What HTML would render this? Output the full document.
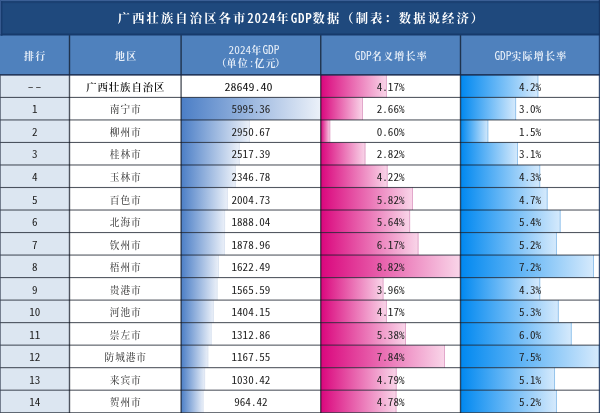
<!DOCTYPE html>
<html lang="zh-CN">
<head>
<meta charset="utf-8">
<title>广西壮族自治区各市2024年GDP数据</title>
<style>
html,body{margin:0;padding:0;background:#fff;}
body{width:600px;height:413px;overflow:hidden;font-family:"Liberation Sans","Noto Sans CJK SC",sans-serif;}
#wrap{position:relative;width:600px;height:413px;overflow:hidden;background:#fff;}
#bg{position:absolute;left:0;top:0;display:block}
.title{will-change:transform;position:absolute;left:0;top:0;width:600px;height:35px;color:#fff;white-space:nowrap;box-sizing:border-box;padding-left:3px;
 font-family:"Noto Serif CJK SC",serif;font-weight:700;font-size:12.3px;line-height:35.6px;text-align:center;letter-spacing:2.1px;}
.title b{font-family:"Noto Sans CJK SC",sans-serif;font-feature-settings:"hwid";font-weight:500;font-size:13px;letter-spacing:0.75px}
.hc{will-change:transform;position:absolute;top:35.5px;height:40px;display:flex;align-items:center;justify-content:center;color:#e6eef8;white-space:nowrap;
 font-family:"Noto Serif CJK SC",serif;font-weight:700;font-size:10px;line-height:13.5px;text-align:center;letter-spacing:1.25px}
.hc span{display:inline-block;padding-left:1px}
.hc b{font-family:"Noto Sans CJK SC",sans-serif;font-feature-settings:"hwid";font-weight:400;font-size:11.3px;letter-spacing:0}
.hc em{font-style:normal;letter-spacing:1.1px}
.hc s{text-decoration:none;padding-left:5.4px}
.hc u{text-decoration:none}
.hc .pl{margin-right:-1px}
.hc .pr{margin-left:-1.5px}
.row{position:absolute;left:0;width:600px;height:22.5px;will-change:transform}
.cell{position:absolute;top:0;height:22.5px;display:flex;align-items:center;justify-content:center;color:#111;white-space:nowrap}
.num{display:inline-block;font-family:"Noto Sans CJK SC",sans-serif;font-feature-settings:"hwid";font-size:11.1px;line-height:14px;color:#222;transform:translateY(0.7px) scaleY(0.95)}
.kai{display:inline-block;font-family:"Noto Serif CJK SC",serif;font-size:9.7px;line-height:14px;font-weight:500;letter-spacing:0.9px;padding-left:0.9px;color:#444;transform:translateY(0.8px)}
.kai.b{font-weight:600;color:#111;font-size:10.4px;letter-spacing:0.9px;padding-left:0.9px}
.num.g0{font-size:12px;color:#111;margin-left:-5px;transform:translateY(0.7px) scaleY(0.9)}
.num.dd{transform:translateY(-0.3px) scaleX(1.4);color:#333}
</style>
</head>
<body>
<div id="wrap">
<svg id="bg" width="600" height="413" viewBox="0 0 600 413">
<defs>
<linearGradient id="gg" x1="0" y1="0" x2="1" y2="0"><stop offset="0" stop-color="#4b7ec6"/><stop offset="1" stop-color="#ecf1f9"/></linearGradient>
<linearGradient id="gp" x1="0" y1="0" x2="1" y2="0"><stop offset="0" stop-color="#da067d"/><stop offset="1" stop-color="#f9d6e9"/></linearGradient>
<linearGradient id="gu" x1="0" y1="0" x2="1" y2="0"><stop offset="0" stop-color="#0088f0"/><stop offset="1" stop-color="#d6eafc"/></linearGradient>
</defs>
<rect x="0" y="0" width="600" height="413" fill="#ffffff"/>
<rect x="0" y="0" width="600" height="34.6" fill="#1f497d"/>
<rect x="0" y="0" width="600" height="1" fill="#3b5f95"/>
<rect x="0" y="1.2" width="600" height="2" fill="#1b4072"/>
<rect x="0" y="34.6" width="600" height="40.300000000000004" fill="#4f81bd"/>
<rect x="0" y="74.9" width="69.5" height="338.1" fill="#dce6f1"/>
<rect x="320.75" y="74.9" width="66.07" height="22.52" fill="url(#gp)"/>
<rect x="385.92" y="74.9" width="0.9" height="22.52" fill="#dfa3c8"/>
<rect x="460.5" y="74.9" width="77.84" height="22.52" fill="url(#gu)"/>
<rect x="537.44" y="74.9" width="0.9" height="22.52" fill="#8fc0ea"/>
<rect x="181.1" y="97.42" width="139.65" height="22.52" fill="url(#gg)"/>
<rect x="320.75" y="97.42" width="42.15" height="22.52" fill="url(#gp)"/>
<rect x="362.00" y="97.42" width="0.9" height="22.52" fill="#dfa3c8"/>
<rect x="460.5" y="97.42" width="55.60" height="22.52" fill="url(#gu)"/>
<rect x="515.20" y="97.42" width="0.9" height="22.52" fill="#8fc0ea"/>
<rect x="181.1" y="119.94" width="68.73" height="22.52" fill="url(#gg)"/>
<rect x="248.93" y="119.94" width="0.9" height="22.52" fill="#dbe3f0"/>
<rect x="320.75" y="119.94" width="9.51" height="22.52" fill="url(#gp)"/>
<rect x="329.36" y="119.94" width="0.9" height="22.52" fill="#dfa3c8"/>
<rect x="460.5" y="119.94" width="27.80" height="22.52" fill="url(#gu)"/>
<rect x="487.40" y="119.94" width="0.9" height="22.52" fill="#8fc0ea"/>
<rect x="181.1" y="142.46" width="58.64" height="22.52" fill="url(#gg)"/>
<rect x="238.84" y="142.46" width="0.9" height="22.52" fill="#dbe3f0"/>
<rect x="320.75" y="142.46" width="44.68" height="22.52" fill="url(#gp)"/>
<rect x="364.53" y="142.46" width="0.9" height="22.52" fill="#dfa3c8"/>
<rect x="460.5" y="142.46" width="57.45" height="22.52" fill="url(#gu)"/>
<rect x="517.05" y="142.46" width="0.9" height="22.52" fill="#8fc0ea"/>
<rect x="181.1" y="164.98000000000002" width="54.66" height="22.52" fill="url(#gg)"/>
<rect x="234.86" y="164.98000000000002" width="0.9" height="22.52" fill="#dbe3f0"/>
<rect x="320.75" y="164.98000000000002" width="66.86" height="22.52" fill="url(#gp)"/>
<rect x="386.71" y="164.98000000000002" width="0.9" height="22.52" fill="#dfa3c8"/>
<rect x="460.5" y="164.98000000000002" width="79.69" height="22.52" fill="url(#gu)"/>
<rect x="539.29" y="164.98000000000002" width="0.9" height="22.52" fill="#8fc0ea"/>
<rect x="181.1" y="187.5" width="46.70" height="22.52" fill="url(#gg)"/>
<rect x="226.90" y="187.5" width="0.9" height="22.52" fill="#dbe3f0"/>
<rect x="320.75" y="187.5" width="92.22" height="22.52" fill="url(#gp)"/>
<rect x="412.07" y="187.5" width="0.9" height="22.52" fill="#dfa3c8"/>
<rect x="460.5" y="187.5" width="87.11" height="22.52" fill="url(#gu)"/>
<rect x="546.71" y="187.5" width="0.9" height="22.52" fill="#8fc0ea"/>
<rect x="181.1" y="210.02" width="43.98" height="22.52" fill="url(#gg)"/>
<rect x="224.18" y="210.02" width="0.9" height="22.52" fill="#dbe3f0"/>
<rect x="320.75" y="210.02" width="89.36" height="22.52" fill="url(#gp)"/>
<rect x="409.21" y="210.02" width="0.9" height="22.52" fill="#dfa3c8"/>
<rect x="460.5" y="210.02" width="100.08" height="22.52" fill="url(#gu)"/>
<rect x="559.68" y="210.02" width="0.9" height="22.52" fill="#8fc0ea"/>
<rect x="181.1" y="232.54" width="43.77" height="22.52" fill="url(#gg)"/>
<rect x="223.97" y="232.54" width="0.9" height="22.52" fill="#dbe3f0"/>
<rect x="320.75" y="232.54" width="97.76" height="22.52" fill="url(#gp)"/>
<rect x="417.61" y="232.54" width="0.9" height="22.52" fill="#dfa3c8"/>
<rect x="460.5" y="232.54" width="96.37" height="22.52" fill="url(#gu)"/>
<rect x="555.97" y="232.54" width="0.9" height="22.52" fill="#8fc0ea"/>
<rect x="181.1" y="255.06" width="37.79" height="22.52" fill="url(#gg)"/>
<rect x="217.99" y="255.06" width="0.9" height="22.52" fill="#dbe3f0"/>
<rect x="320.75" y="255.06" width="139.75" height="22.52" fill="url(#gp)"/>
<rect x="459.60" y="255.06" width="0.9" height="22.52" fill="#dfa3c8"/>
<rect x="460.5" y="255.06" width="133.44" height="22.52" fill="url(#gu)"/>
<rect x="593.04" y="255.06" width="0.9" height="22.52" fill="#8fc0ea"/>
<rect x="181.1" y="277.58000000000004" width="36.47" height="22.52" fill="url(#gg)"/>
<rect x="216.67" y="277.58000000000004" width="0.9" height="22.52" fill="#dbe3f0"/>
<rect x="320.75" y="277.58000000000004" width="62.74" height="22.52" fill="url(#gp)"/>
<rect x="382.59" y="277.58000000000004" width="0.9" height="22.52" fill="#dfa3c8"/>
<rect x="460.5" y="277.58000000000004" width="79.69" height="22.52" fill="url(#gu)"/>
<rect x="539.29" y="277.58000000000004" width="0.9" height="22.52" fill="#8fc0ea"/>
<rect x="181.1" y="300.1" width="32.71" height="22.52" fill="url(#gg)"/>
<rect x="212.91" y="300.1" width="0.9" height="22.52" fill="#dbe3f0"/>
<rect x="320.75" y="300.1" width="66.07" height="22.52" fill="url(#gp)"/>
<rect x="385.92" y="300.1" width="0.9" height="22.52" fill="#dfa3c8"/>
<rect x="460.5" y="300.1" width="98.23" height="22.52" fill="url(#gu)"/>
<rect x="557.83" y="300.1" width="0.9" height="22.52" fill="#8fc0ea"/>
<rect x="181.1" y="322.62" width="30.58" height="22.52" fill="url(#gg)"/>
<rect x="210.78" y="322.62" width="0.9" height="22.52" fill="#dbe3f0"/>
<rect x="320.75" y="322.62" width="85.24" height="22.52" fill="url(#gp)"/>
<rect x="405.09" y="322.62" width="0.9" height="22.52" fill="#dfa3c8"/>
<rect x="460.5" y="322.62" width="111.20" height="22.52" fill="url(#gu)"/>
<rect x="570.80" y="322.62" width="0.9" height="22.52" fill="#8fc0ea"/>
<rect x="181.1" y="345.14" width="27.20" height="22.52" fill="url(#gg)"/>
<rect x="207.40" y="345.14" width="0.9" height="22.52" fill="#dbe3f0"/>
<rect x="320.75" y="345.14" width="124.22" height="22.52" fill="url(#gp)"/>
<rect x="444.07" y="345.14" width="0.9" height="22.52" fill="#dfa3c8"/>
<rect x="460.5" y="345.14" width="139.00" height="22.52" fill="url(#gu)"/>
<rect x="598.60" y="345.14" width="0.9" height="22.52" fill="#8fc0ea"/>
<rect x="181.1" y="367.65999999999997" width="24.00" height="22.52" fill="url(#gg)"/>
<rect x="204.20" y="367.65999999999997" width="0.9" height="22.52" fill="#dbe3f0"/>
<rect x="320.75" y="367.65999999999997" width="75.90" height="22.52" fill="url(#gp)"/>
<rect x="395.75" y="367.65999999999997" width="0.9" height="22.52" fill="#dfa3c8"/>
<rect x="460.5" y="367.65999999999997" width="94.52" height="22.52" fill="url(#gu)"/>
<rect x="554.12" y="367.65999999999997" width="0.9" height="22.52" fill="#8fc0ea"/>
<rect x="181.1" y="390.17999999999995" width="22.46" height="22.52" fill="url(#gg)"/>
<rect x="202.66" y="390.17999999999995" width="0.9" height="22.52" fill="#dbe3f0"/>
<rect x="320.75" y="390.17999999999995" width="75.74" height="22.52" fill="url(#gp)"/>
<rect x="395.59" y="390.17999999999995" width="0.9" height="22.52" fill="#dfa3c8"/>
<rect x="460.5" y="390.17999999999995" width="96.37" height="22.52" fill="url(#gu)"/>
<rect x="555.97" y="390.17999999999995" width="0.9" height="22.52" fill="#8fc0ea"/>
<g fill="#0c1220" fill-opacity="0.7">
<rect x="68.80" y="34.6" width="1.4" height="378.4"/>
<rect x="180.40" y="34.6" width="1.4" height="378.4"/>
<rect x="320.05" y="34.6" width="1.4" height="378.4"/>
<rect x="459.80" y="34.6" width="1.4" height="378.4"/>
<rect x="0" y="74.00" width="600" height="1.7" fill="#16284a" fill-opacity="0.85"/>
<rect x="0" y="96.87" width="600" height="1.1"/>
<rect x="0" y="119.39" width="600" height="1.1"/>
<rect x="0" y="141.91" width="600" height="1.1"/>
<rect x="0" y="164.43" width="600" height="1.1"/>
<rect x="0" y="186.95" width="600" height="1.1"/>
<rect x="0" y="209.47" width="600" height="1.1"/>
<rect x="0" y="231.99" width="600" height="1.1"/>
<rect x="0" y="254.51" width="600" height="1.1"/>
<rect x="0" y="277.03" width="600" height="1.1"/>
<rect x="0" y="299.55" width="600" height="1.1"/>
<rect x="0" y="322.07" width="600" height="1.1"/>
<rect x="0" y="344.59" width="600" height="1.1"/>
<rect x="0" y="367.11" width="600" height="1.1"/>
<rect x="0" y="389.63" width="600" height="1.1"/>
<rect x="0" y="412.15" width="600" height="1.1"/>
</g>
<rect x="0" y="33.5" width="600" height="2" fill="#173a6b"/>
<rect x="598.8" y="0" width="1.2" height="413" fill="#15305d" fill-opacity="0.85"/>
<rect x="0" y="74.9" width="0.8" height="338.1" fill="#3c4658" fill-opacity="0.8"/>
<rect x="0" y="0" width="1" height="34.6" fill="#36598f"/>
<rect x="1.2" y="1.2" width="1.2" height="34.6" fill="#173a6b"/>
</svg>
<div class="title">广西壮族自治区各市<b>2024</b>年<b>GDP</b>数据（制表：数据说经济）</div>
<div class="hc" style="left:0px;width:69.5px"><span>排行</span></div>
<div class="hc" style="left:69.5px;width:111.6px"><span>地区</span></div>
<div class="hc" style="left:181.1px;width:139.65px"><span><s class="l1"><b>2024</b>年<b>GDP</b></s><br><em><u class="pl">（</u>单位<b>:</b>亿元<u class="pr">）</u></em></span></div>
<div class="hc" style="left:320.75px;width:139.75px"><span><b>GDP</b>名义增长率</span></div>
<div class="hc" style="left:460.5px;width:139.0px"><span><b>GDP</b>实际增长率</span></div>
<div class="row" style="top:74.90px"><div class="cell" style="left:0px;width:69.5px"><span class="num dd">--</span></div><div class="cell" style="left:69.5px;width:111.6px"><span class="kai b">广西壮族自治区</span></div><div class="cell" style="left:181.1px;width:139.65px"><span class="num g0">28649.40</span></div><div class="cell" style="left:320.75px;width:139.75px"><span class="num">4.17%</span></div><div class="cell" style="left:460.5px;width:139.0px"><span class="num">4.2%</span></div></div>
<div class="row" style="top:97.42px"><div class="cell" style="left:0px;width:69.5px"><span class="num">1</span></div><div class="cell" style="left:69.5px;width:111.6px"><span class="kai">南宁市</span></div><div class="cell" style="left:181.1px;width:139.65px"><span class="num">5995.36</span></div><div class="cell" style="left:320.75px;width:139.75px"><span class="num">2.66%</span></div><div class="cell" style="left:460.5px;width:139.0px"><span class="num">3.0%</span></div></div>
<div class="row" style="top:119.94px"><div class="cell" style="left:0px;width:69.5px"><span class="num">2</span></div><div class="cell" style="left:69.5px;width:111.6px"><span class="kai">柳州市</span></div><div class="cell" style="left:181.1px;width:139.65px"><span class="num">2950.67</span></div><div class="cell" style="left:320.75px;width:139.75px"><span class="num">0.60%</span></div><div class="cell" style="left:460.5px;width:139.0px"><span class="num">1.5%</span></div></div>
<div class="row" style="top:142.46px"><div class="cell" style="left:0px;width:69.5px"><span class="num">3</span></div><div class="cell" style="left:69.5px;width:111.6px"><span class="kai">桂林市</span></div><div class="cell" style="left:181.1px;width:139.65px"><span class="num">2517.39</span></div><div class="cell" style="left:320.75px;width:139.75px"><span class="num">2.82%</span></div><div class="cell" style="left:460.5px;width:139.0px"><span class="num">3.1%</span></div></div>
<div class="row" style="top:164.98px"><div class="cell" style="left:0px;width:69.5px"><span class="num">4</span></div><div class="cell" style="left:69.5px;width:111.6px"><span class="kai">玉林市</span></div><div class="cell" style="left:181.1px;width:139.65px"><span class="num">2346.78</span></div><div class="cell" style="left:320.75px;width:139.75px"><span class="num">4.22%</span></div><div class="cell" style="left:460.5px;width:139.0px"><span class="num">4.3%</span></div></div>
<div class="row" style="top:187.50px"><div class="cell" style="left:0px;width:69.5px"><span class="num">5</span></div><div class="cell" style="left:69.5px;width:111.6px"><span class="kai">百色市</span></div><div class="cell" style="left:181.1px;width:139.65px"><span class="num">2004.73</span></div><div class="cell" style="left:320.75px;width:139.75px"><span class="num">5.82%</span></div><div class="cell" style="left:460.5px;width:139.0px"><span class="num">4.7%</span></div></div>
<div class="row" style="top:210.02px"><div class="cell" style="left:0px;width:69.5px"><span class="num">6</span></div><div class="cell" style="left:69.5px;width:111.6px"><span class="kai">北海市</span></div><div class="cell" style="left:181.1px;width:139.65px"><span class="num">1888.04</span></div><div class="cell" style="left:320.75px;width:139.75px"><span class="num">5.64%</span></div><div class="cell" style="left:460.5px;width:139.0px"><span class="num">5.4%</span></div></div>
<div class="row" style="top:232.54px"><div class="cell" style="left:0px;width:69.5px"><span class="num">7</span></div><div class="cell" style="left:69.5px;width:111.6px"><span class="kai">钦州市</span></div><div class="cell" style="left:181.1px;width:139.65px"><span class="num">1878.96</span></div><div class="cell" style="left:320.75px;width:139.75px"><span class="num">6.17%</span></div><div class="cell" style="left:460.5px;width:139.0px"><span class="num">5.2%</span></div></div>
<div class="row" style="top:255.06px"><div class="cell" style="left:0px;width:69.5px"><span class="num">8</span></div><div class="cell" style="left:69.5px;width:111.6px"><span class="kai">梧州市</span></div><div class="cell" style="left:181.1px;width:139.65px"><span class="num">1622.49</span></div><div class="cell" style="left:320.75px;width:139.75px"><span class="num">8.82%</span></div><div class="cell" style="left:460.5px;width:139.0px"><span class="num">7.2%</span></div></div>
<div class="row" style="top:277.58px"><div class="cell" style="left:0px;width:69.5px"><span class="num">9</span></div><div class="cell" style="left:69.5px;width:111.6px"><span class="kai">贵港市</span></div><div class="cell" style="left:181.1px;width:139.65px"><span class="num">1565.59</span></div><div class="cell" style="left:320.75px;width:139.75px"><span class="num">3.96%</span></div><div class="cell" style="left:460.5px;width:139.0px"><span class="num">4.3%</span></div></div>
<div class="row" style="top:300.10px"><div class="cell" style="left:0px;width:69.5px"><span class="num">10</span></div><div class="cell" style="left:69.5px;width:111.6px"><span class="kai">河池市</span></div><div class="cell" style="left:181.1px;width:139.65px"><span class="num">1404.15</span></div><div class="cell" style="left:320.75px;width:139.75px"><span class="num">4.17%</span></div><div class="cell" style="left:460.5px;width:139.0px"><span class="num">5.3%</span></div></div>
<div class="row" style="top:322.62px"><div class="cell" style="left:0px;width:69.5px"><span class="num">11</span></div><div class="cell" style="left:69.5px;width:111.6px"><span class="kai">崇左市</span></div><div class="cell" style="left:181.1px;width:139.65px"><span class="num">1312.86</span></div><div class="cell" style="left:320.75px;width:139.75px"><span class="num">5.38%</span></div><div class="cell" style="left:460.5px;width:139.0px"><span class="num">6.0%</span></div></div>
<div class="row" style="top:345.14px"><div class="cell" style="left:0px;width:69.5px"><span class="num">12</span></div><div class="cell" style="left:69.5px;width:111.6px"><span class="kai">防城港市</span></div><div class="cell" style="left:181.1px;width:139.65px"><span class="num">1167.55</span></div><div class="cell" style="left:320.75px;width:139.75px"><span class="num">7.84%</span></div><div class="cell" style="left:460.5px;width:139.0px"><span class="num">7.5%</span></div></div>
<div class="row" style="top:367.66px"><div class="cell" style="left:0px;width:69.5px"><span class="num">13</span></div><div class="cell" style="left:69.5px;width:111.6px"><span class="kai">来宾市</span></div><div class="cell" style="left:181.1px;width:139.65px"><span class="num">1030.42</span></div><div class="cell" style="left:320.75px;width:139.75px"><span class="num">4.79%</span></div><div class="cell" style="left:460.5px;width:139.0px"><span class="num">5.1%</span></div></div>
<div class="row" style="top:390.18px"><div class="cell" style="left:0px;width:69.5px"><span class="num">14</span></div><div class="cell" style="left:69.5px;width:111.6px"><span class="kai">贺州市</span></div><div class="cell" style="left:181.1px;width:139.65px"><span class="num">964.42</span></div><div class="cell" style="left:320.75px;width:139.75px"><span class="num">4.78%</span></div><div class="cell" style="left:460.5px;width:139.0px"><span class="num">5.2%</span></div></div>
</div>
</body>
</html>
